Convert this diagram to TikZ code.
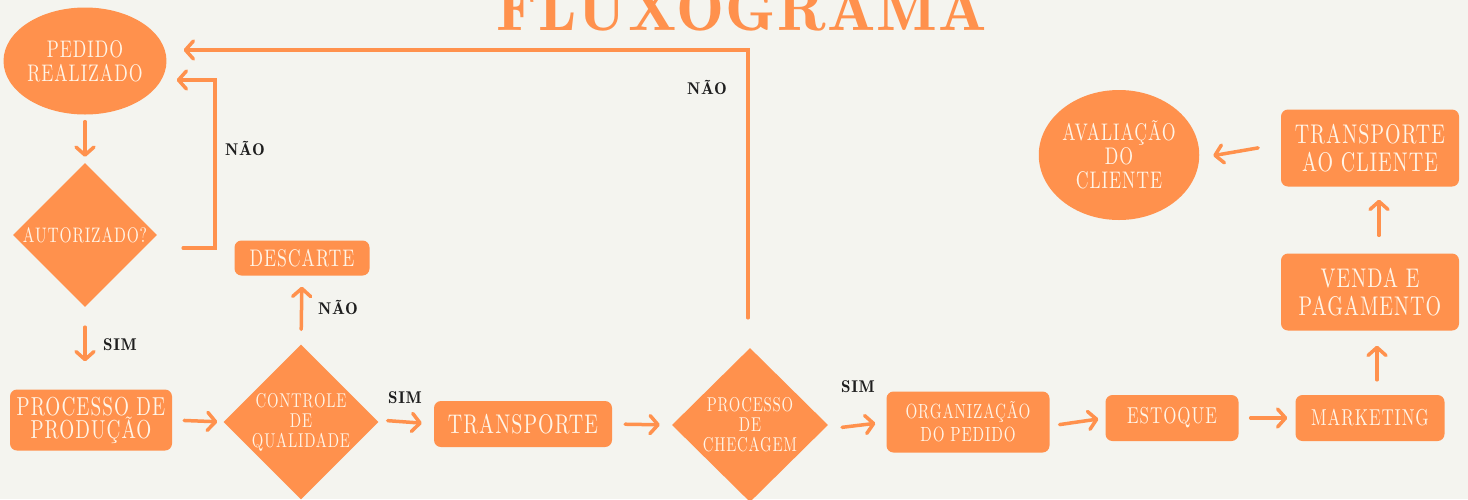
\documentclass[tikz,border=0pt]{standalone}
\usepackage{fontspec}
\usetikzlibrary{shapes.geometric, arrows.meta}
\definecolor{fluxorange}{HTML}{FF914D}
\definecolor{papel}{HTML}{F4F4EF}
\definecolor{creme}{HTML}{FFF4E6}
\definecolor{tinta}{HTML}{1E1E1E}
\newfontfamily\boxfont{lmroman10-regular.otf}[LetterSpace=4, FakeStretch=0.74]
\newfontfamily\titlefont{lmromandemi10-regular.otf}[LetterSpace=2]
\newfontfamily\answerfont{lmromandemi10-regular.otf}[LetterSpace=4]
\tikzset{
	etapa/.style = {rectangle, rounded corners=7pt, fill=fluxorange, text=creme, align=center, inner sep=0pt},
	decisao/.style = {diamond, fill=fluxorange, text=creme, align=center, inner sep=-6pt},
	terminal/.style = {ellipse, fill=fluxorange, text=creme, align=center, inner sep=0pt},
	seta/.style = {draw=fluxorange, line width=3.5pt, line cap=round, -{Straight Barb[length=8pt, width=18pt, round]}},
	resposta/.style = {text=tinta, font=\answerfont\fontsize{17}{20}\selectfont},
}

\begin{document}
\begin{tikzpicture}[x=1pt, y=-1pt]
			\def\W{1468};
			\def\H{499};

			\useasboundingbox (0,0) rectangle (\W,\H);
			\fill[papel] (0,0) rectangle (\W,\H);
			\clip (0,0) rectangle (\W,\H);

			\node[anchor=base, text=fluxorange, font=\titlefont\fontsize{64}{70}\selectfont] (titulo) at (742,30) {FLUXOGRAMA};

			\node[terminal, minimum width=160pt, minimum height=107pt, font=\boxfont\fontsize{24}{24}\selectfont] (pedido) at (85,61) {PEDIDO\\REALIZADO};
			\node[decisao, minimum width=144pt, minimum height=144pt, font=\boxfont\fontsize{21}{20}\selectfont] (autorizado) at (85,235) {AUTORIZADO?};
			\node[etapa, minimum width=162pt, minimum height=61pt, font=\boxfont\fontsize{26}{23}\selectfont] (producao) at (91,420) {PROCESSO DE\\PRODUÇÃO};
			\node[decisao, minimum width=155pt, minimum height=155pt, font=\boxfont\fontsize{20}{20}\selectfont] (controle) at (301,422) {CONTROLE\\DE\\QUALIDADE};
			\node[etapa, minimum width=135pt, minimum height=35pt, font=\boxfont\fontsize{24}{22}\selectfont] (descarte) at (302,258) {DESCARTE};
			\node[etapa, minimum width=178pt, minimum height=46pt, font=\boxfont\fontsize{27}{24}\selectfont] (transporte) at (523,424) {TRANSPORTE};
			\node[decisao, minimum width=156pt, minimum height=154pt, font=\boxfont\fontsize{20}{20}\selectfont] (checagem) at (750,425) {PROCESSO\\DE\\CHECAGEM};
			\node[etapa, minimum width=163pt, minimum height=61pt, font=\boxfont\fontsize{20.5}{23}\selectfont] (organizacao) at (968,422) {ORGANIZAÇÃO\\DO PEDIDO};
			\node[etapa, minimum width=133pt, minimum height=46pt, font=\boxfont\fontsize{23}{22}\selectfont] (estoque) at (1172,418) {ESTOQUE};
			\node[etapa, minimum width=149pt, minimum height=46pt, font=\boxfont\fontsize{23}{22}\selectfont] (marketing) at (1370,418) {MARKETING};
			\node[etapa, minimum width=178pt, minimum height=77pt, font=\boxfont\fontsize{27}{28}\selectfont] (venda) at (1370,292) {VENDA E\\PAGAMENTO};
			\node[etapa, minimum width=178pt, minimum height=77pt, font=\boxfont\fontsize{27}{28}\selectfont] (entrega) at (1370,148) {TRANSPORTE\\AO CLIENTE};
			\node[terminal, minimum width=160pt, minimum height=130pt, font=\boxfont\fontsize{24}{24}\selectfont] (avaliacao) at (1119,155) {AVALIAÇÃO\\DO\\CLIENTE};

			\draw[seta, shorten <=7pt, shorten >=6pt] (pedido) -- (autorizado);
			\draw[seta, shorten <=20pt, shorten >=28pt] (autorizado.south) -- (autorizado.south |- producao.north);
			\draw[seta] ([shift={(26,13)}]autorizado.east) -| (215,80) -- ([shift={(10,19)}]pedido.east);
			\draw[seta, shorten <=12pt, shorten >=6pt] (producao.east) -- (controle.west);
			\draw[seta, shorten <=15pt, shorten >=11pt] (controle.north) -- (descarte.south);
			\draw[seta, shorten <=9pt, shorten >=12pt] ([yshift=2]controle.east) -- (transporte.west);
			\draw[seta, shorten <=13pt, shorten >=12pt] (transporte.east) -- (checagem.west);
			\draw[seta] ([shift={(-2,-30)}]checagem.north) |- ([shift={(17,-11)}]pedido.east);
			\draw[seta, shorten <=14pt, shorten >=11pt] ([yshift=-4]checagem.east) -- (organizacao.west);
			\draw[seta, shorten <=10pt, shorten >=7pt] ([yshift=-4]organizacao.east) -- (estoque.west);
			\draw[seta, shorten <=12pt, shorten >=8pt] (estoque.east) -- (marketing.west);
			\draw[seta, shorten <=15pt, shorten >=15pt] ([xshift=7]marketing.north) -- ([xshift=7]venda.south);
			\draw[seta, shorten <=18pt, shorten >=13pt] ([xshift=9]venda.north) -- ([xshift=9]entrega.south);
			\draw[seta, shorten <=23pt, shorten >=14pt] ([yshift=4]entrega.west) -- ([yshift=-3]avaliacao.east);

			\node[resposta] (nao1) at (245,148) {NÃO};
			\node[resposta] (sim1) at (120,345) {SIM};
			\node[resposta] (nao2) at (338,307) {NÃO};
			\node[resposta] (sim2) at (405,398) {SIM};
			\node[resposta] (nao3) at (707,87) {NÃO};
			\node[resposta] (sim3) at (858,387) {SIM};
		\end{tikzpicture}
\end{document}
